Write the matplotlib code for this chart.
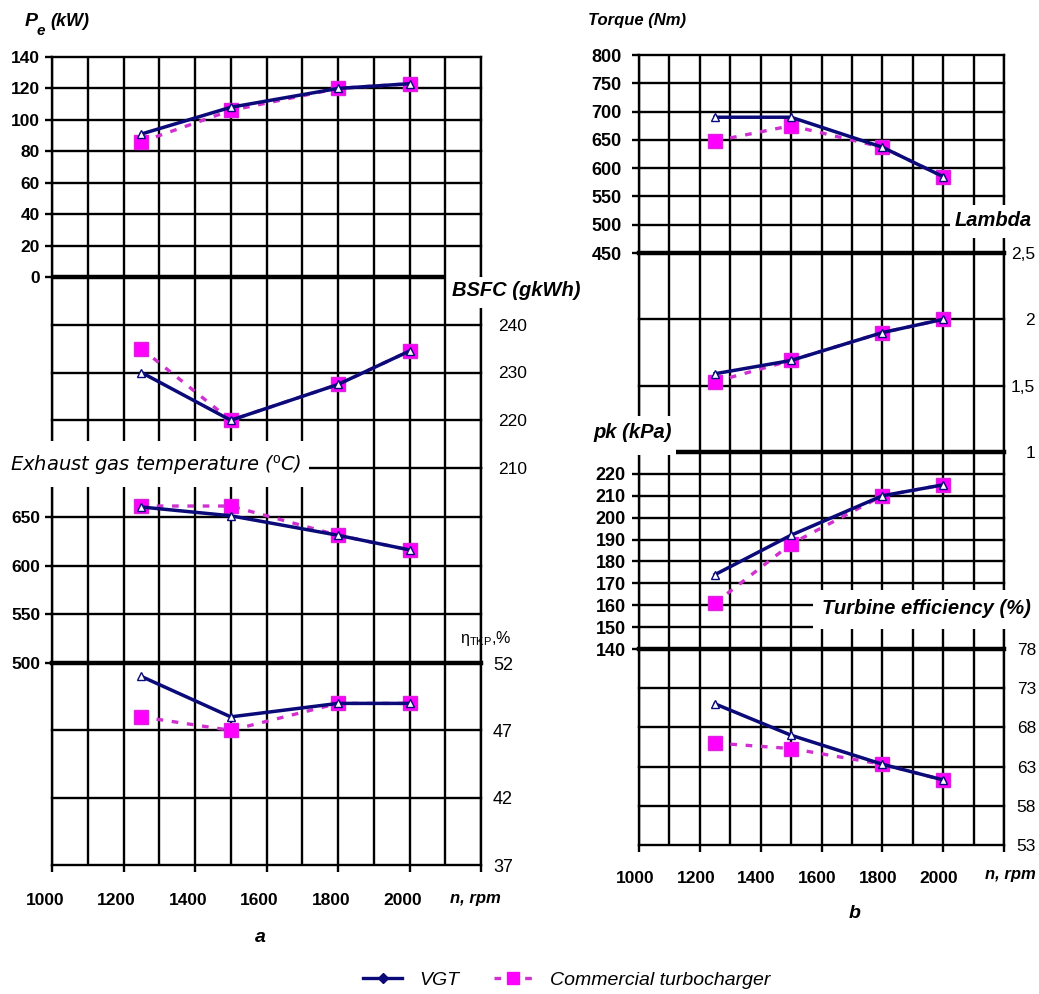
import matplotlib
matplotlib.use("Agg")
import matplotlib.pyplot as plt
from matplotlib.lines import Line2D
from matplotlib.patches import Rectangle
import matplotlib.transforms as mtransforms

plt.rcParams['font.family'] = ['Liberation Sans', 'DejaVu Sans']
plt.rcParams['mathtext.fontset'] = 'custom'
plt.rcParams['mathtext.rm'] = 'Liberation Sans'
plt.rcParams['mathtext.it'] = 'Liberation Sans:italic'
plt.rcParams['mathtext.bf'] = 'Liberation Sans:bold'

W, H = 1039, 994

# engine speed, rpm
speed = [1250, 1500, 1800, 2000]
rpm_labels = ['1000', '1200', '1400', '1600', '1800', '2000', '']

# (a) power, fuel consumption, exhaust temperature, turbocharger efficiency
power_vgt = [91, 108, 120, 123]
power_com = [86, 106, 120, 123]
bsfc_vgt = [230, 220, 227.5, 234.5]
bsfc_com = [235, 220, 227.5, 234.5]
egt_vgt = [660, 651, 631, 616]
egt_com = [661, 661, 631, 616]
eff_tc_vgt = [51, 48, 49, 49]
eff_tc_com = [48, 47, 49, 49]

# (b) torque, excess air ratio, boost pressure, turbine efficiency
torque_vgt = [690, 690, 637, 585]
torque_com = [648, 675, 637, 585]
lambda_vgt = [1.59, 1.69, 1.90, 2.0]
lambda_com = [1.53, 1.69, 1.90, 2.0]
pk_vgt = [174, 192, 210, 215]
pk_com = [161, 188, 210, 215]
eff_t_vgt = [71, 67, 63.3, 61.3]
eff_t_com = [66, 65.3, 63.3, 61.3]

series_names = ['VGT', 'Commercial turbocharger']

GRID_LW = 1.7
THICK_LW = 3.2
NAVY = '#0a0a78'
MAGENTA = '#ff00ff'
DASH_COL = '#d030d0'

VGT_STYLE = dict(color=NAVY, lw=2.5, marker='^', ms=6, mfc='white',
                 mec=NAVY, mew=1.0, zorder=6)
COM_STYLE = dict(color=DASH_COL, lw=2.4, dashes=(2.0, 2.6), marker='s', ms=10,
                 mfc=MAGENTA, mec='#dd22dd', mew=1.0, zorder=5)

fig = plt.figure(figsize=(W / 100, H / 100), dpi=100)


def strip(x0, x1, y0, y1, ylim, grid_vals, tick_vals, tick_labels=None,
          side='left', pad=4.0, bold=True, size=12.5, ha=None,
          bottom=False, xpad=15.0, xshift=0.0):
    ax = fig.add_axes([x0 / W, 1 - y1 / H, (x1 - x0) / W, (y1 - y0) / H])
    ax.set_xlim(1000, 2200)
    ax.set_ylim(*ylim)
    ax.patch.set_visible(False)
    ax.spines['top'].set_visible(False)
    ax.spines['bottom'].set_visible(False)
    for name in ('left', 'right'):
        ax.spines[name].set_linewidth(GRID_LW)
    ax.set_xticks(range(1000, 2201, 200))
    ax.set_xticks(range(1100, 2200, 200), minor=True)
    ax.grid(which='both', axis='x', color='black', lw=GRID_LW)
    for v in grid_vals:
        ax.axhline(v, color='black', lw=GRID_LW, zorder=1, clip_on=False)

    ax.set_yticks(tick_vals)
    ax.set_yticklabels(tick_labels if tick_labels else [str(v) for v in tick_vals],
                       fontweight='bold' if bold else 'normal', fontsize=size)
    ax.yaxis.set_ticks_position(side)
    ax.tick_params(axis='y', length=5 if side == 'left' else 0,
                   width=GRID_LW, pad=pad, direction='out')
    if ha:
        for lab in ax.get_yticklabels():
            lab.set_horizontalalignment(ha)

    if bottom:
        ax.set_xticklabels(rpm_labels, fontweight='bold', fontsize=12.5)
        ax.tick_params(axis='x', which='major', length=5, width=GRID_LW, pad=xpad)
        ax.tick_params(axis='x', which='minor', length=0)
        shift = mtransforms.ScaledTranslation(xshift / 100, 0, fig.dpi_scale_trans)
        for lab in ax.get_xticklabels():
            lab.set_transform(lab.get_transform() + shift)
    else:
        ax.tick_params(axis='x', which='both', length=0, labelbottom=False)
    return ax


def pair(ax, vgt, com):
    ax.plot(speed, com, **COM_STYLE)
    ax.plot(speed, vgt, **VGT_STYLE)


# ---- panel a ----
LX0, LX1 = 52, 481
ax_pe = strip(LX0, LX1, 57, 277, (0, 140), range(20, 141, 20), list(range(0, 141, 20)),
              side='left', pad=3.6)
ax_pe.hlines(0, 1000, 2100, color='black', lw=THICK_LW, clip_on=False, zorder=3)
pair(ax_pe, power_vgt, power_com)

ax_bsfc = strip(LX0, LX1, 277, 468, (210, 250), [210, 220, 230, 240], [210, 220, 230, 240],
                side='right', pad=12.2, bold=False, size=12.5)
pair(ax_bsfc, bsfc_vgt, bsfc_com)

ax_egt = strip(LX0, LX1, 468, 663, (500, 700), [550, 600, 650], [500, 550, 600, 650],
               side='left', pad=3.6)
pair(ax_egt, egt_vgt, egt_com)

ax_etc = strip(LX0, LX1, 663, 865, (37, 52), [37, 42, 47], [37, 42, 47, 52],
               side='right', pad=8.6, bold=False, size=13,
               bottom=True, xpad=15.0, xshift=-7)
ax_etc.axhline(52, color='black', lw=THICK_LW, zorder=3, clip_on=False)
pair(ax_etc, eff_tc_vgt, eff_tc_com)

# ---- panel b ----
RX0, RX1 = 639, 1004
ax_tq = strip(RX0, RX1, 55, 253, (450, 800), range(500, 801, 50), list(range(450, 801, 50)),
              side='left', pad=7.5, size=13)
ax_tq.axhline(450, color='black', lw=THICK_LW, zorder=3, clip_on=False)
pair(ax_tq, torque_vgt, torque_com)

ax_lam = strip(RX0, RX1, 253, 452, (1, 2.5), [1.5, 2.0], [1, 1.5, 2, 2.5],
               tick_labels=['1', '1,5', '2', '2,5'], side='right', pad=22.3,
               bold=False, size=12.5, ha='right')
ax_lam.axhline(1, color='black', lw=THICK_LW, zorder=3, clip_on=False)
pair(ax_lam, lambda_vgt, lambda_com)

ax_pk = strip(RX0, RX1, 452, 649, (140, 230), range(150, 221, 10), list(range(140, 221, 10)),
              side='left', pad=4.6, size=13)
pair(ax_pk, pk_vgt, pk_com)

ax_te = strip(RX0, RX1, 649, 845, (53, 78), [53, 58, 63, 68, 73], [53, 58, 63, 68, 73, 78],
              side='right', pad=23.0, bold=False, size=12.5, ha='right',
              bottom=True, xpad=13.5, xshift=-4)
ax_te.axhline(78, color='black', lw=THICK_LW, zorder=3, clip_on=False)
pair(ax_te, eff_t_vgt, eff_t_com)


# ---- quantity labels sitting on white patches over the grid ----
def cover(x0, y0, x1, y1):
    fig.add_artist(Rectangle((x0 / W, 1 - y1 / H), (x1 - x0) / W, (y1 - y0) / H,
                             transform=fig.transFigure, facecolor='white',
                             edgecolor='none', zorder=8))


def ftext(x, y, s, **kw):
    kw.setdefault('va', 'center')
    fig.text(x / W, 1 - y / H, s, zorder=9, **kw)


cover(447, 277, 592, 308)
cover(0, 441, 309, 487)
cover(586, 416, 676, 455)
cover(813, 590, 1039, 629)
cover(950, 205, 1039, 238)

TITLE = dict(style='italic', weight='bold')
ftext(25, 22, 'P', size=14, **TITLE)
ftext(37, 31, 'e', size=11, **TITLE)
ftext(50, 22, '(kW)', size=13, **TITLE)
ftext(452, 290, 'BSFC (gkWh)', size=14.5, **TITLE)
ftext(10, 465, r'Exhaust gas temperature ($^{\mathrm{o}}$C)', family='DejaVu Sans',
      style='italic', size=14)
ftext(460, 638, 'η' + r'$_{\mathrm{TKP}}$' + ',%', size=11.5)
ftext(588, 20, 'Torque (Nm)', size=12, **TITLE)
ftext(955, 220, 'Lambda', size=14.5, **TITLE)
ftext(593, 433, 'pk (kPa)', size=14.5, **TITLE)
ftext(822, 608, 'Turbine efficiency (%)', size=14.5, **TITLE)
ftext(475, 898, 'n, rpm', size=12, ha='center', **TITLE)
ftext(1010, 875, 'n, rpm', size=12, ha='center', **TITLE)
ftext(260, 938, 'a', size=14, ha='center', **TITLE)
ftext(855, 913, 'b', size=14, ha='center', **TITLE)

# ---- legend ----
handles = [
    Line2D([], [], color=NAVY, lw=2.4, marker='D', ms=5, mfc=NAVY, mec=NAVY),
    Line2D([], [], color=DASH_COL, lw=2.4, dashes=(2.0, 2.6), marker='s', ms=8,
           mfc=MAGENTA, mec=MAGENTA),
]
fig.legend(handles, series_names, loc='center', bbox_to_anchor=(567 / W, 1 - 980 / H),
           ncol=2, frameon=False, numpoints=1, handlelength=2.0, handletextpad=0.9,
           columnspacing=1.75, prop=dict(style='italic', size=14))

fig.savefig('out.png', dpi=100)
